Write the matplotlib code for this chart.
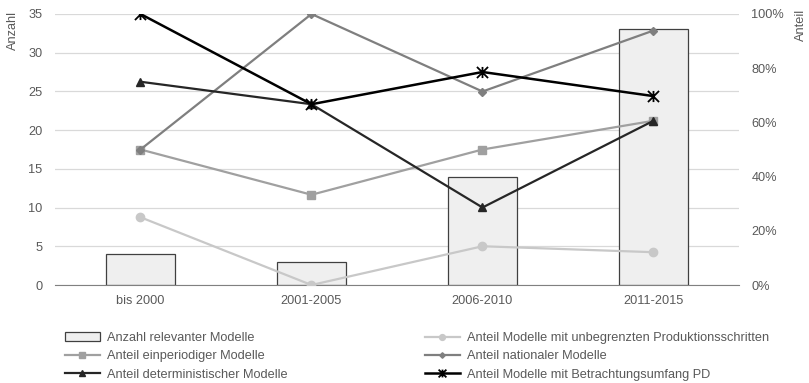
import matplotlib.pyplot as plt
import numpy as np
from matplotlib.path import Path

plt.rcParams['font.family'] = ['Liberation Sans', 'DejaVu Sans']

kategorien = ['bis 2000', '2001-2005', '2006-2010', '2011-2015']
anzahl = [4, 3, 14, 33]
unbegrenzt = [0.25, 0.0, 0.143, 0.121]
einperiodig = [0.50, 0.333, 0.50, 0.606]
national = [0.50, 1.00, 0.714, 0.939]
deterministisch = [0.75, 0.667, 0.286, 0.606]
pd_umfang = [1.00, 0.667, 0.786, 0.697]

# excel-like star: X plus vertical stroke
stern = Path([(-1, -1), (1, 1), (-1, 1), (1, -1), (0, -1), (0, 1)],
             [Path.MOVETO, Path.LINETO, Path.MOVETO, Path.LINETO, Path.MOVETO, Path.LINETO])

txt = '#595959'
fs = 9.2
fig = plt.figure(figsize=(8.09, 3.83), dpi=100)
ax = fig.add_axes([55 / 809, 1 - 285 / 383, 684 / 809, 271 / 383])
ax2 = ax.twinx()

x = np.arange(len(kategorien))
bars = ax.bar(x, anzahl, width=0.4, color='#efefef', edgecolor='#404040', linewidth=0.9, zorder=2)
ax.set_ylim(0, 35)
ax.set_yticks(range(0, 36, 5))
ax.set_xlim(-0.5, 3.5)
ax.set_xticks(x, kategorien)
ax.grid(axis='y', color='#d9d9d9', linewidth=0.9, zorder=0)
ax.set_axisbelow(True)
for s in ['top', 'right', 'left']:
    ax.spines[s].set_visible(False)
    ax2.spines[s].set_visible(False)
ax.spines['bottom'].set_color('#808080')
ax2.spines['bottom'].set_visible(False)
ax.tick_params(axis='y', length=0, labelsize=fs, colors=txt, pad=9)
ax.tick_params(axis='x', length=0, labelsize=fs, colors=txt, pad=7)
fig.text(13 / 809, 1 - 11 / 383, 'Anzahl', rotation=90, ha='center', va='top',
         fontsize=fs, color=txt)

ax2.set_ylim(0, 1)
ax2.set_yticks(np.arange(0, 1.01, 0.2))
ax2.set_yticklabels([f'{int(round(v * 100))}%' for v in np.arange(0, 1.01, 0.2)])
ax2.tick_params(length=0, labelsize=fs, colors=txt, pad=9)
fig.text(801 / 809, 1 - 9 / 383, 'Anteil', rotation=90, ha='center', va='top',
         fontsize=fs, color=txt)

l1, = ax2.plot(x, unbegrenzt, color='#c8c8c8', lw=1.6, marker='o', ms=6, zorder=3)
l2, = ax2.plot(x, einperiodig, color='#a0a0a0', lw=1.6, marker='s', ms=6, zorder=3)
l3, = ax2.plot(x, national, color='#7f7f7f', lw=1.6, marker='D', ms=4, zorder=3)
l4, = ax2.plot(x, deterministisch, color='#262626', lw=1.6, marker='^', ms=6, zorder=3)
l5, = ax2.plot(x, pd_umfang, color='#000000', lw=1.8, marker=stern, ms=8, mew=1.3, zorder=3)

kw = dict(frameon=False, fontsize=fs, labelcolor=txt, handlelength=2.7, handletextpad=0.55,
          labelspacing=0.49, borderpad=0, borderaxespad=0)
leg1 = fig.legend([bars, l2, l4],
                  ['Anzahl relevanter Modelle', 'Anteil einperiodiger Modelle',
                   'Anteil deterministischer Modelle'],
                  loc='upper left', bbox_to_anchor=(65 / 809, 1 - 332 / 383), **kw)
leg2 = fig.legend([l1, l3, l5],
                  ['Anteil Modelle mit unbegrenzten Produktionsschritten',
                   'Anteil nationaler Modelle', 'Anteil Modelle mit Betrachtungsumfang PD'],
                  loc='upper left', bbox_to_anchor=(425 / 809, 1 - 332 / 383), **kw)
for h in leg1.legend_handles[1:] + leg2.legend_handles:
    h.set_markersize(h.get_markersize() * 0.7)

fig.savefig('out.png', dpi=100)
